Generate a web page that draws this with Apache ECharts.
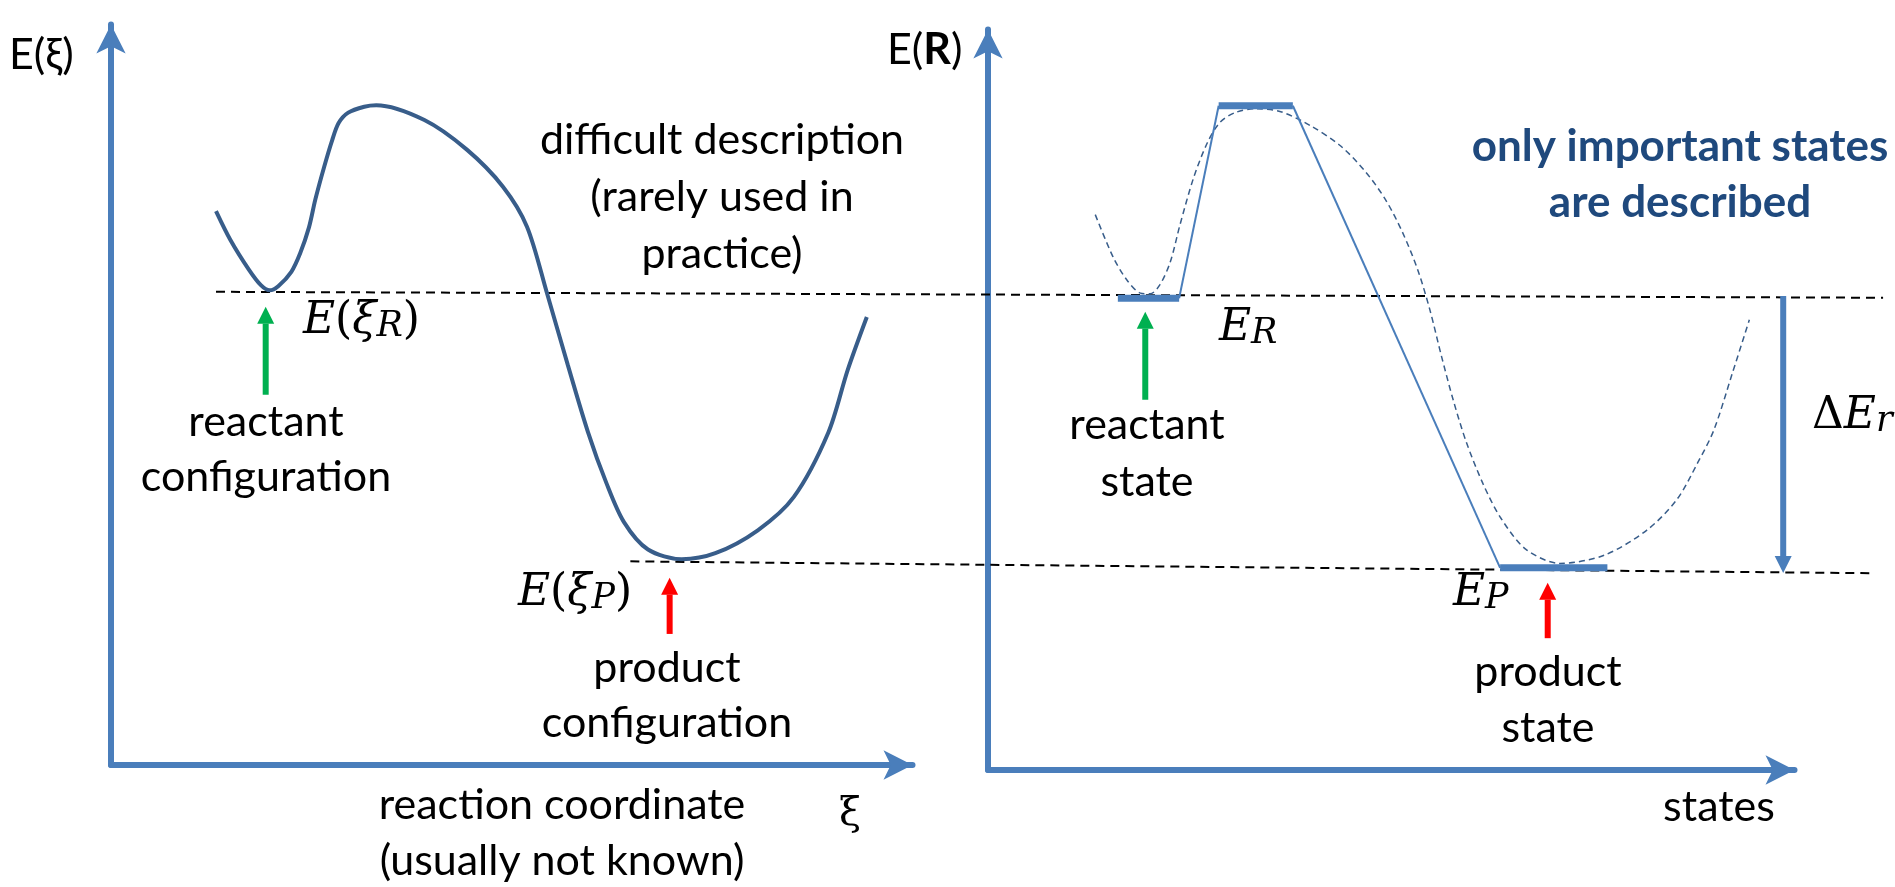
<!DOCTYPE html>
<html>
<head>
<meta charset="utf-8">
<script src="https://cdn.jsdelivr.net/npm/echarts@6/dist/echarts.min.js"></script>
<style>
  html, body { margin: 0; padding: 0; background: #fff; }
  #main { width: 1895px; height: 887px; }
</style>
</head>
<body>
<div id="main"></div>
<script>
// ---- left panel: energy along the reaction coordinate (x 0..100, E 0..100)
const xiCurve = [
  [13.1, 74.8], [14.9, 70.9], [17.2, 66.9], [18.7, 64.8], [19.8, 64.1],
  [20.9, 64.7], [22.5, 66.6], [23.6, 69.1], [24.7, 72.6], [25.5, 76.4],
  [26.6, 80.8], [27.6, 84.4], [28.4, 86.7], [29.6, 88.1], [31.6, 88.9],
  [33.1, 89.1], [39.1, 87.1], [44.4, 83.1], [48.9, 78.1], [51.9, 72.7],
  [54.4, 63.7], [57.0, 54.0], [59.5, 45.0], [61.8, 38.1], [64.0, 32.8],
  [67.0, 29.1], [71.2, 27.8], [75.4, 28.6], [80.7, 31.7], [85.2, 36.2],
  [89.5, 44.9], [91.9, 53.3], [94.3, 60.5]
];
// arrows: [x, tail E, tip E]
const leftArrows = [[19.3, 50.0, 61.9], [69.7, 17.7, 25.3]];
const leftArrowColors = ['#00B050', '#FF0000'];

// ---- reference levels, in left-panel units, running across both panels
const reactantLevel = [[13.1, 63.9], [221.1, 63.1]];
const productLevel = [[64.8, 27.5], [219.6, 25.9]];

// ---- right panel: discrete states (x 0..100, E 0..100)
// [x start, x end, E]
const stateLevels = [[16.1, 23.7, 63.7], [28.6, 37.8, 89.7], [63.5, 76.8, 27.3]];
const stateLinks = [
  [[23.7, 63.7], [28.6, 89.7]],
  [[37.8, 89.7], [63.5, 27.3]]
];
const statesCurve = [
  [13.3, 75.0], [15.5, 69.3], [17.2, 66.2], [18.9, 64.4], [20.1, 64.3],
  [21.3, 65.5], [22.6, 68.6], [23.8, 73.6], [25.5, 80.0], [27.2, 84.7],
  [28.8, 87.5], [30.7, 88.8], [33.2, 89.3], [36.3, 88.9], [40.0, 87.0],
  [43.7, 84.3], [46.8, 80.8], [49.3, 77.0], [51.4, 72.6], [53.3, 67.5],
  [54.8, 62.1], [56.2, 56.0], [57.7, 49.9], [59.3, 44.3], [61.4, 38.6],
  [63.6, 34.0], [66.7, 29.8], [70.9, 27.9], [76.4, 29.0], [81.7, 32.4],
  [85.4, 36.5], [88.0, 41.5], [90.0, 45.9], [92.3, 53.6], [94.4, 60.8]
];
const rightArrows = [[19.5, 50.0, 61.9], [69.4, 17.8, 25.3], [98.6, 64.0, 26.6]];
const rightArrowColors = ['#00B050', '#FF0000', '#4A7EBB'];

const AXIS_BLUE = '#4A7EBB';
const CURVE_BLUE = '#385D8A';
const FONT = 'Lato, "Liberation Sans", sans-serif';
const MATH = '"DejaVu Serif", "Liberation Serif", serif';

function panelAxis(gridIndex, max, visible) {
  return {
    gridIndex: gridIndex, type: 'value', min: 0, max: max, show: visible,
    axisLine: {
      show: true, onZero: false,
      symbol: ['none', 'arrow'], symbolSize: [22, 29],
      lineStyle: { color: AXIS_BLUE, width: 6 }
    },
    axisTick: { show: false }, axisLabel: { show: false }, splitLine: { show: false }
  };
}

function arrowItem(params, api) {
  const tail = api.coord([api.value(0), api.value(1)]);
  const tip = api.coord([api.value(0), api.value(2)]);
  const dir = tip[1] < tail[1] ? 1 : -1;
  const base = tip[1] + dir * 17;
  const color = api.visual('color');
  return {
    type: 'group',
    children: [
      { type: 'line', shape: { x1: tail[0], y1: tail[1], x2: tip[0], y2: base },
        style: { stroke: color, lineWidth: 6 } },
      { type: 'polygon', shape: { points: [[tip[0], tip[1]], [tip[0] - 8.5, base], [tip[0] + 8.5, base]] },
        style: { fill: color } }
    ]
  };
}

function lineSeries(grid, data, style, extra) {
  return Object.assign({
    type: 'line', xAxisIndex: grid, yAxisIndex: grid, data: data,
    symbol: 'none', silent: true, animation: false, lineStyle: style
  }, extra || {});
}

const dashedBlack = { color: '#000', width: 2, type: [9, 6] };
const series = [
  lineSeries(2, reactantLevel, dashedBlack, { z: 1 }),
  lineSeries(2, productLevel, dashedBlack, { z: 1 }),
  lineSeries(0, xiCurve, { color: CURVE_BLUE, width: 4 }, { smooth: 0.3, z: 3 }),
  lineSeries(1, statesCurve, { color: CURVE_BLUE, width: 1.5, type: [6, 4] }, { smooth: 0.3, z: 2 })
];
stateLinks.forEach(function (seg) {
  series.push(lineSeries(1, seg, { color: AXIS_BLUE, width: 2 }, { z: 3 }));
});
stateLevels.forEach(function (lv) {
  series.push(lineSeries(1, [[lv[0], lv[2]], [lv[1], lv[2]]], { color: AXIS_BLUE, width: 7, cap: 'butt' }, { z: 4 }));
});
[[0, leftArrows, leftArrowColors], [1, rightArrows, rightArrowColors]].forEach(function (a) {
  series.push({
    type: 'custom', xAxisIndex: a[0], yAxisIndex: a[0], silent: true, animation: false,
    encode: { x: 0, y: [1, 2] },
    renderItem: arrowItem,
    data: a[1].map(function (v, i) { return { value: v, itemStyle: { color: a[2][i] } }; }),
    z: 5
  });
});

function text(x, y, str, st) {
  return {
    type: 'text', x: x, y: y, silent: true, z: 10,
    style: Object.assign({
      text: str, fontSize: 43, fontFamily: FONT, fill: '#000',
      align: 'center', verticalAlign: 'middle', lineHeight: 56
    }, st || {})
  };
}
const mathRich = {
  e: { fontSize: 44, lineHeight: 44, fontFamily: MATH, fontStyle: 'italic', fill: '#000' },
  u: { fontSize: 44, lineHeight: 44, fontFamily: MATH, fill: '#000' },
  s: { fontSize: 35, lineHeight: 20, fontFamily: MATH, fontStyle: 'italic', fill: '#000', verticalAlign: 'bottom' }
};
function math(x, y, str) {
  return text(x, y, str, { align: 'left', rich: mathRich, lineHeight: 44, fontFamily: MATH, fontSize: 44 });
}

const graphics = [
  text(9, 55, 'E(ξ)', { align: 'left' }),
  text(887, 50, '{n|E(}{b|R}{n|)}', {
    align: 'left',
    rich: { n: { fontSize: 43, fontFamily: FONT }, b: { fontSize: 43, fontFamily: FONT, fontWeight: 'bold' } }
  }),
  text(722, 197, 'difficult description\n(rarely used in\npractice)', { lineHeight: 57 }),
  text(266, 450, 'reactant\nconfiguration', { lineHeight: 55 }),
  text(667, 696, 'product\nconfiguration', { lineHeight: 55 }),
  text(562, 833, 'reaction coordinate\n(usually not known)', { lineHeight: 56 }),
  text(850, 815, 'ξ', { fontFamily: MATH, fontSize: 40 }),
  text(1680, 175, 'only important states\nare described', { fontWeight: 'bold', fill: '#1F497D', fontSize: 44 }),
  text(1147, 454, 'reactant\nstate', { lineHeight: 57 }),
  text(1548, 700, 'product\nstate'),
  text(1719, 807, 'states'),
  math(303, 322, '{e|E}{u|(}{e|ξ}{s|R}{u|)}'),
  math(518, 594, '{e|E}{u|(}{e|ξ}{s|P}{u|)}'),
  math(1219, 329, '{e|E}{s|R}'),
  math(1453, 594, '{e|E}{s|P}'),
  math(1812, 417, '{u|Δ}{e|E}{s|r}')
];

const chart = echarts.init(document.getElementById('main'));
chart.setOption({
  animation: false,
  backgroundColor: '#fff',
  grid: [
    { left: 111, top: 24.5, width: 801.5, height: 740.5 },
    { left: 988, top: 29.5, width: 806.5, height: 740.5 },
    { left: 111, top: 24.5, width: 1779.3, height: 740.5 }
  ],
  xAxis: [panelAxis(0, 100, true), panelAxis(1, 100, true), panelAxis(2, 222, false)],
  yAxis: [panelAxis(0, 100, true), panelAxis(1, 100, true), panelAxis(2, 100, false)],
  series: series,
  graphic: graphics
});
</script>
</body>
</html>
